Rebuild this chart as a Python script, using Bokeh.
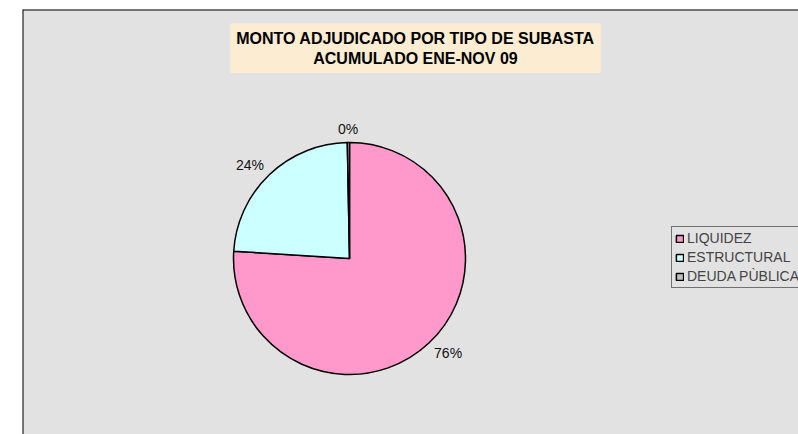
import math
from bokeh.plotting import figure
from bokeh.models import Range1d, Label, Legend, LegendItem, Span, ColumnDataSource
from bokeh.embed import file_html
from bokeh.resources import INLINE

# ---- data ----
categories = ["LIQUIDEZ", "ESTRUCTURAL", "DEUDA PÙBLICA"]
values = [76.0, 23.7, 0.3]
pct_labels = ["76%", "24%", "0%"]
colors = ["#ff99cc", "#ccffff", "#c0c0c0"]
title_lines = "MONTO ADJUDICADO POR TIPO DE SUBASTA\nACUMULADO ENE-NOV 09"

W, H = 798, 434
BL, BT = 22, 9
FW, FH = W - BL, H - BT
p = figure(width=W, height=H, output_backend="svg", toolbar_location=None,
           x_range=Range1d(0, FW), y_range=Range1d(0, FH),
           min_border_left=BL, min_border_top=BT, min_border_right=0, min_border_bottom=0)
p.axis.visible = False
p.grid.visible = False
p.background_fill_color = "#e2e2e2"
p.border_fill_color = "white"
p.outline_line_color = None
p.add_layout(Span(location=0, dimension="height", line_color="black", line_width=2))
p.add_layout(Span(location=FH, dimension="width", line_color="black", line_width=2))

cx, cy, r = 327, 176, 116
total = sum(values)
starts, ends, lx, ly = [], [], [], []
cum = 0.0
for v in values:
    a0 = math.pi / 2 - 2 * math.pi * (cum + v) / total
    a1 = math.pi / 2 - 2 * math.pi * cum / total
    starts.append(a0)
    ends.append(a1)
    mid = (a0 + a1) / 2
    lx.append(cx + 144 * math.cos(mid))
    ly.append(cy + 130 * math.sin(mid))
    cum += v

src = ColumnDataSource(dict(start=starts, end=ends, color=colors, cat=categories,
                            lx=lx, ly=ly, lab=pct_labels))
wr = p.wedge(x=cx, y=cy, radius=r, start_angle="start", end_angle="end",
             fill_color="color", line_color="black", line_width=1.5, source=src)

p.text(x="lx", y="ly", text="lab", source=src, text_align="center", text_baseline="middle",
       text_font_size="14px", text_font={"value": "Liberation Sans"}, text_color="#111111")

items = [LegendItem(label=c, renderers=[wr], index=i) for i, c in enumerate(categories)]
legend = Legend(items=items, location=(649, 146), orientation="vertical",
                background_fill_color="#e2e2e2", background_fill_alpha=1,
                border_line_color="black", border_line_width=1,
                label_text_font="Liberation Sans", label_text_font_size="14px",
                glyph_width=9, glyph_height=9, label_standoff=3, label_height=14,
                spacing=3, padding=3, margin=0)
p.add_layout(legend, "center")

t = Label(x=393, y=411, x_units="screen", y_units="screen", text=title_lines,
          text_align="center", text_baseline="top", text_font="Liberation Sans",
          text_font_style="bold", text_font_size="16px", text_color="black",
          background_fill_color="#fcecd2", padding=6)
p.add_layout(t)

open("out.html", "w").write(file_html(p, INLINE))
